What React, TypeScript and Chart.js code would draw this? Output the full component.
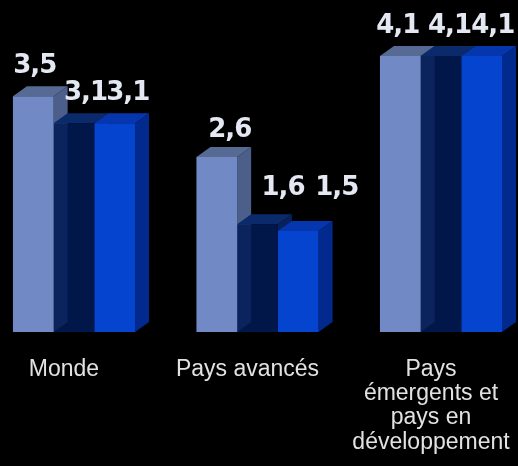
import React, { useEffect, useRef } from 'react';
import { Chart, registerables } from 'chart.js';

Chart.register(...registerables);

// ---- data ----
const categories: string[][] = [
  ['Monde'],
  ['Pays avancés'],
  ['Pays', 'émergents et', 'pays en', 'développement'],
];
const seriesA = [3.5, 2.6, 4.1];
const seriesB = [3.1, 1.6, 4.1];
const seriesC = [3.1, 1.5, 4.1];
const seriesNames = ['Série A', 'Série B', 'Série C'];

// ---- style ----
const DX = 14;
const DY = 10;
const FACES = [
  { front: '#7189c5', top: '#566a93', side: '#4c5e8a' },
  { front: 'rgba(1,27,86,0.86)', top: '#0a2a6c', side: '#06215c' },
  { front: '#0444cf', top: '#0536ad', side: '#022a8e' },
];
const LABEL_NUDGE_X = [
  [-5.5, 6, -9.5],
  [4.5, 18.5, 1.5],
  [6, 31.5, 4],
];
const LABEL_NUDGE_Y = [
  [0, 3, 0],
  [0, -6, 0],
  [0, -13, 0],
];

const fmt = (v: number) => v.toFixed(1).replace('.', ',');

const bar3d = {
  id: 'bar3d',
  beforeDatasetsDraw(chart: any) {
    const ctx = chart.ctx;
    chart.data.datasets.forEach((_ds: any, i: number) => {
      const meta = chart.getDatasetMeta(i);
      const f = FACES[i];
      meta.data.forEach((el: any) => {
        const { x, y, base, width } = el.getProps(['x', 'y', 'base', 'width'], true);
        const l = x - width / 2;
        const r = x + width / 2;
        ctx.save();
        ctx.fillStyle = f.side;
        ctx.beginPath();
        ctx.moveTo(r, y);
        ctx.lineTo(r + DX, y - DY);
        ctx.lineTo(r + DX, base - DY);
        ctx.lineTo(r, base);
        ctx.closePath();
        ctx.fill();
        ctx.fillStyle = f.top;
        ctx.beginPath();
        ctx.moveTo(l, y);
        ctx.lineTo(r, y);
        ctx.lineTo(r + DX, y - DY);
        ctx.lineTo(l + DX, y - DY);
        ctx.closePath();
        ctx.fill();
        ctx.restore();
      });
    });
  },
  afterDatasetsDraw(chart: any) {
    const ctx = chart.ctx;
    ctx.save();
    ctx.font = 'bold 26px "DejaVu Sans", sans-serif';
    try { (ctx as any).letterSpacing = '-1px'; } catch (e) { /* ignore */ }
    ctx.fillStyle = '#e4e8f2';
    ctx.textAlign = 'center';
    ctx.textBaseline = 'alphabetic';
    chart.data.datasets.forEach((ds: any, i: number) => {
      const meta = chart.getDatasetMeta(i);
      meta.data.forEach((el: any, j: number) => {
        const { x, y } = el.getProps(['x', 'y'], true);
        ctx.fillText(fmt(ds.data[j]), x + DX / 2 + LABEL_NUDGE_X[i][j], y - 23 + LABEL_NUDGE_Y[i][j]);
      });
    });
    ctx.restore();
  },
};

export default function App() {
  const ref = useRef<HTMLCanvasElement | null>(null);

  useEffect(() => {
    document.body.style.margin = '0';
    document.body.style.background = '#000';
    const canvas = ref.current;
    if (!canvas) return;
    const seriesList = [seriesA, seriesB, seriesC];
    const chart = new Chart(canvas, {
      type: 'bar',
      data: {
        labels: categories,
        datasets: seriesList.map((s, i) => ({
          label: seriesNames[i],
          data: s,
          backgroundColor: FACES[i].front,
          borderWidth: 0,
          clip: false as any,
          categoryPercentage: 0.6655,
          barPercentage: 1,
        })),
      },
      options: {
        responsive: false,
        animation: false,
        devicePixelRatio: 1,
        layout: { padding: { left: 74, right: 77, top: 29, bottom: 0 } },
        plugins: {
          legend: { display: false },
          tooltip: { enabled: false },
        },
        scales: {
          x: {
            type: 'category',
            offset: false,
            grid: { display: false, drawTicks: false },
            border: { display: false },
            ticks: {
              color: '#e2e2e2',
              font: { family: "'Liberation Sans', Arial, sans-serif", size: 23, lineHeight: 1.06 },
              padding: 25,
              labelOffset: -10,
              maxRotation: 0,
              minRotation: 0,
              autoSkip: false,
            },
            afterFit: (s: any) => {
              s.paddingLeft = 0;
              s.paddingRight = 0;
              s.height = 134;
            },
          },
          y: { display: false, min: 0, max: 4.5 },
        },
      },
      plugins: [bar3d],
    });
    return () => chart.destroy();
  }, []);

  return (
    <div style={{ position: 'fixed', left: 0, top: 0, width: 518, height: 466, background: '#000' }}>
      <canvas ref={ref} width={518} height={466} style={{ display: 'block' }} />
    </div>
  );
}
